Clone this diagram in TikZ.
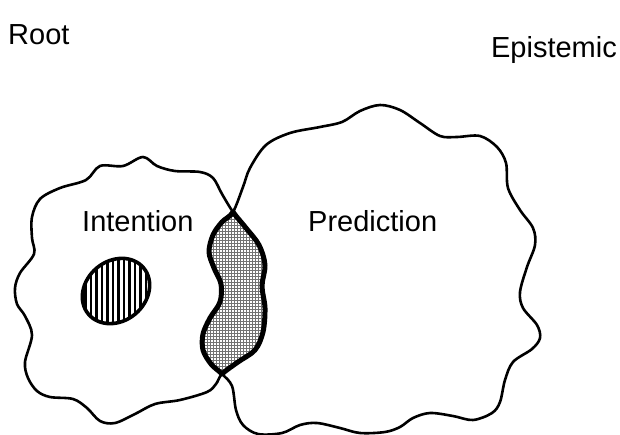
\documentclass[tikz,border=0pt]{standalone}
\usepackage{fontspec}
\setmainfont{Liberation Sans}
\usetikzlibrary{patterns}
\begin{document}
\begin{tikzpicture}[x=1pt,y=-1pt,
  label/.style={font=\fontsize{29}{30}\selectfont, inner sep=0pt, anchor=base west},
  outline/.style={line width=2.6pt, line join=round},
  rim/.style={line width=5pt, line join=round}]
\useasboundingbox (0,0) rectangle (620,435);

% the two wavy regions
\def\intentionblob{plot[smooth cycle, tension=0.55] coordinates {
  (143,157) (157,166) (175,171) (200,172) (213,178) (222,194) (233,212)
  (246,228) (259,245) (265,265) (262,286) (265,308) (263,332) (255,350)
  (238,362) (222,374) (216,384) (207,392) (180,400) (155,404) (135,414)
  (115,423) (100,421) (87,408) (73,399) (50,397) (37,391) (28,378)
  (25,362) (32,335) (25,316) (17,304) (15,288) (20,273) (34,254)
  (32,238) (32,217) (40,199) (60,188) (86,180) (100,166) (123,166)}}
\def\predictionblob{plot[smooth cycle, tension=0.55] coordinates {
  (233,212) (243,187) (250,168) (266,145) (290,133) (320,127) (342,122)
  (360,111) (380,105) (400,110) (420,123) (440,136) (457,137) (480,136)
  (497,147) (506,163) (508,188) (520,210) (533,228) (535,245) (527,267)
  (520,292) (523,308) (537,325) (540,338) (532,349) (513,362) (505,380)
  (500,402) (492,413) (473,420) (453,416) (430,413) (413,418) (400,427)
  (385,432) (360,433) (340,428) (317,423) (300,425) (282,433) (258,434)
  (243,425) (236,410) (232,386) (222,374) (211,364) (203,350) (203,334)
  (210,318) (220,302) (221,284) (214,268) (209,252) (213,235) (222,222)}}

% overlap: fine grid fill with a heavy rim
\begin{scope}
  \clip \intentionblob;
  \fill[pattern=grid, pattern color=black!55] \predictionblob;
  \draw[rim] \predictionblob;
\end{scope}
\begin{scope}
  \clip \predictionblob;
  \draw[rim] \intentionblob;
\end{scope}

\draw[outline] \intentionblob;
\draw[outline] \predictionblob;

% hatched oval inside Intention
\begin{scope}
  \clip[rotate around={40:(116,291)}] (116,291) ellipse [x radius=36pt, y radius=30pt];
  \foreach \x in {80,85.5,...,154}
    \draw[line width=2.5pt] (\x,250) -- (\x,332);
\end{scope}
\draw[line width=3.6pt, rotate around={40:(116,291)}] (116,291) ellipse [x radius=36pt, y radius=30pt];

% labels
\node[label] (root) at (8,45) {Root};
\node[label, anchor=base east] (epistemic) at (617,58) {Epistemic};
\node[label] (intention) at (82,232) {Intention};
\node[label] (prediction) at (308,232) {Prediction};
\end{tikzpicture}
\end{document}
